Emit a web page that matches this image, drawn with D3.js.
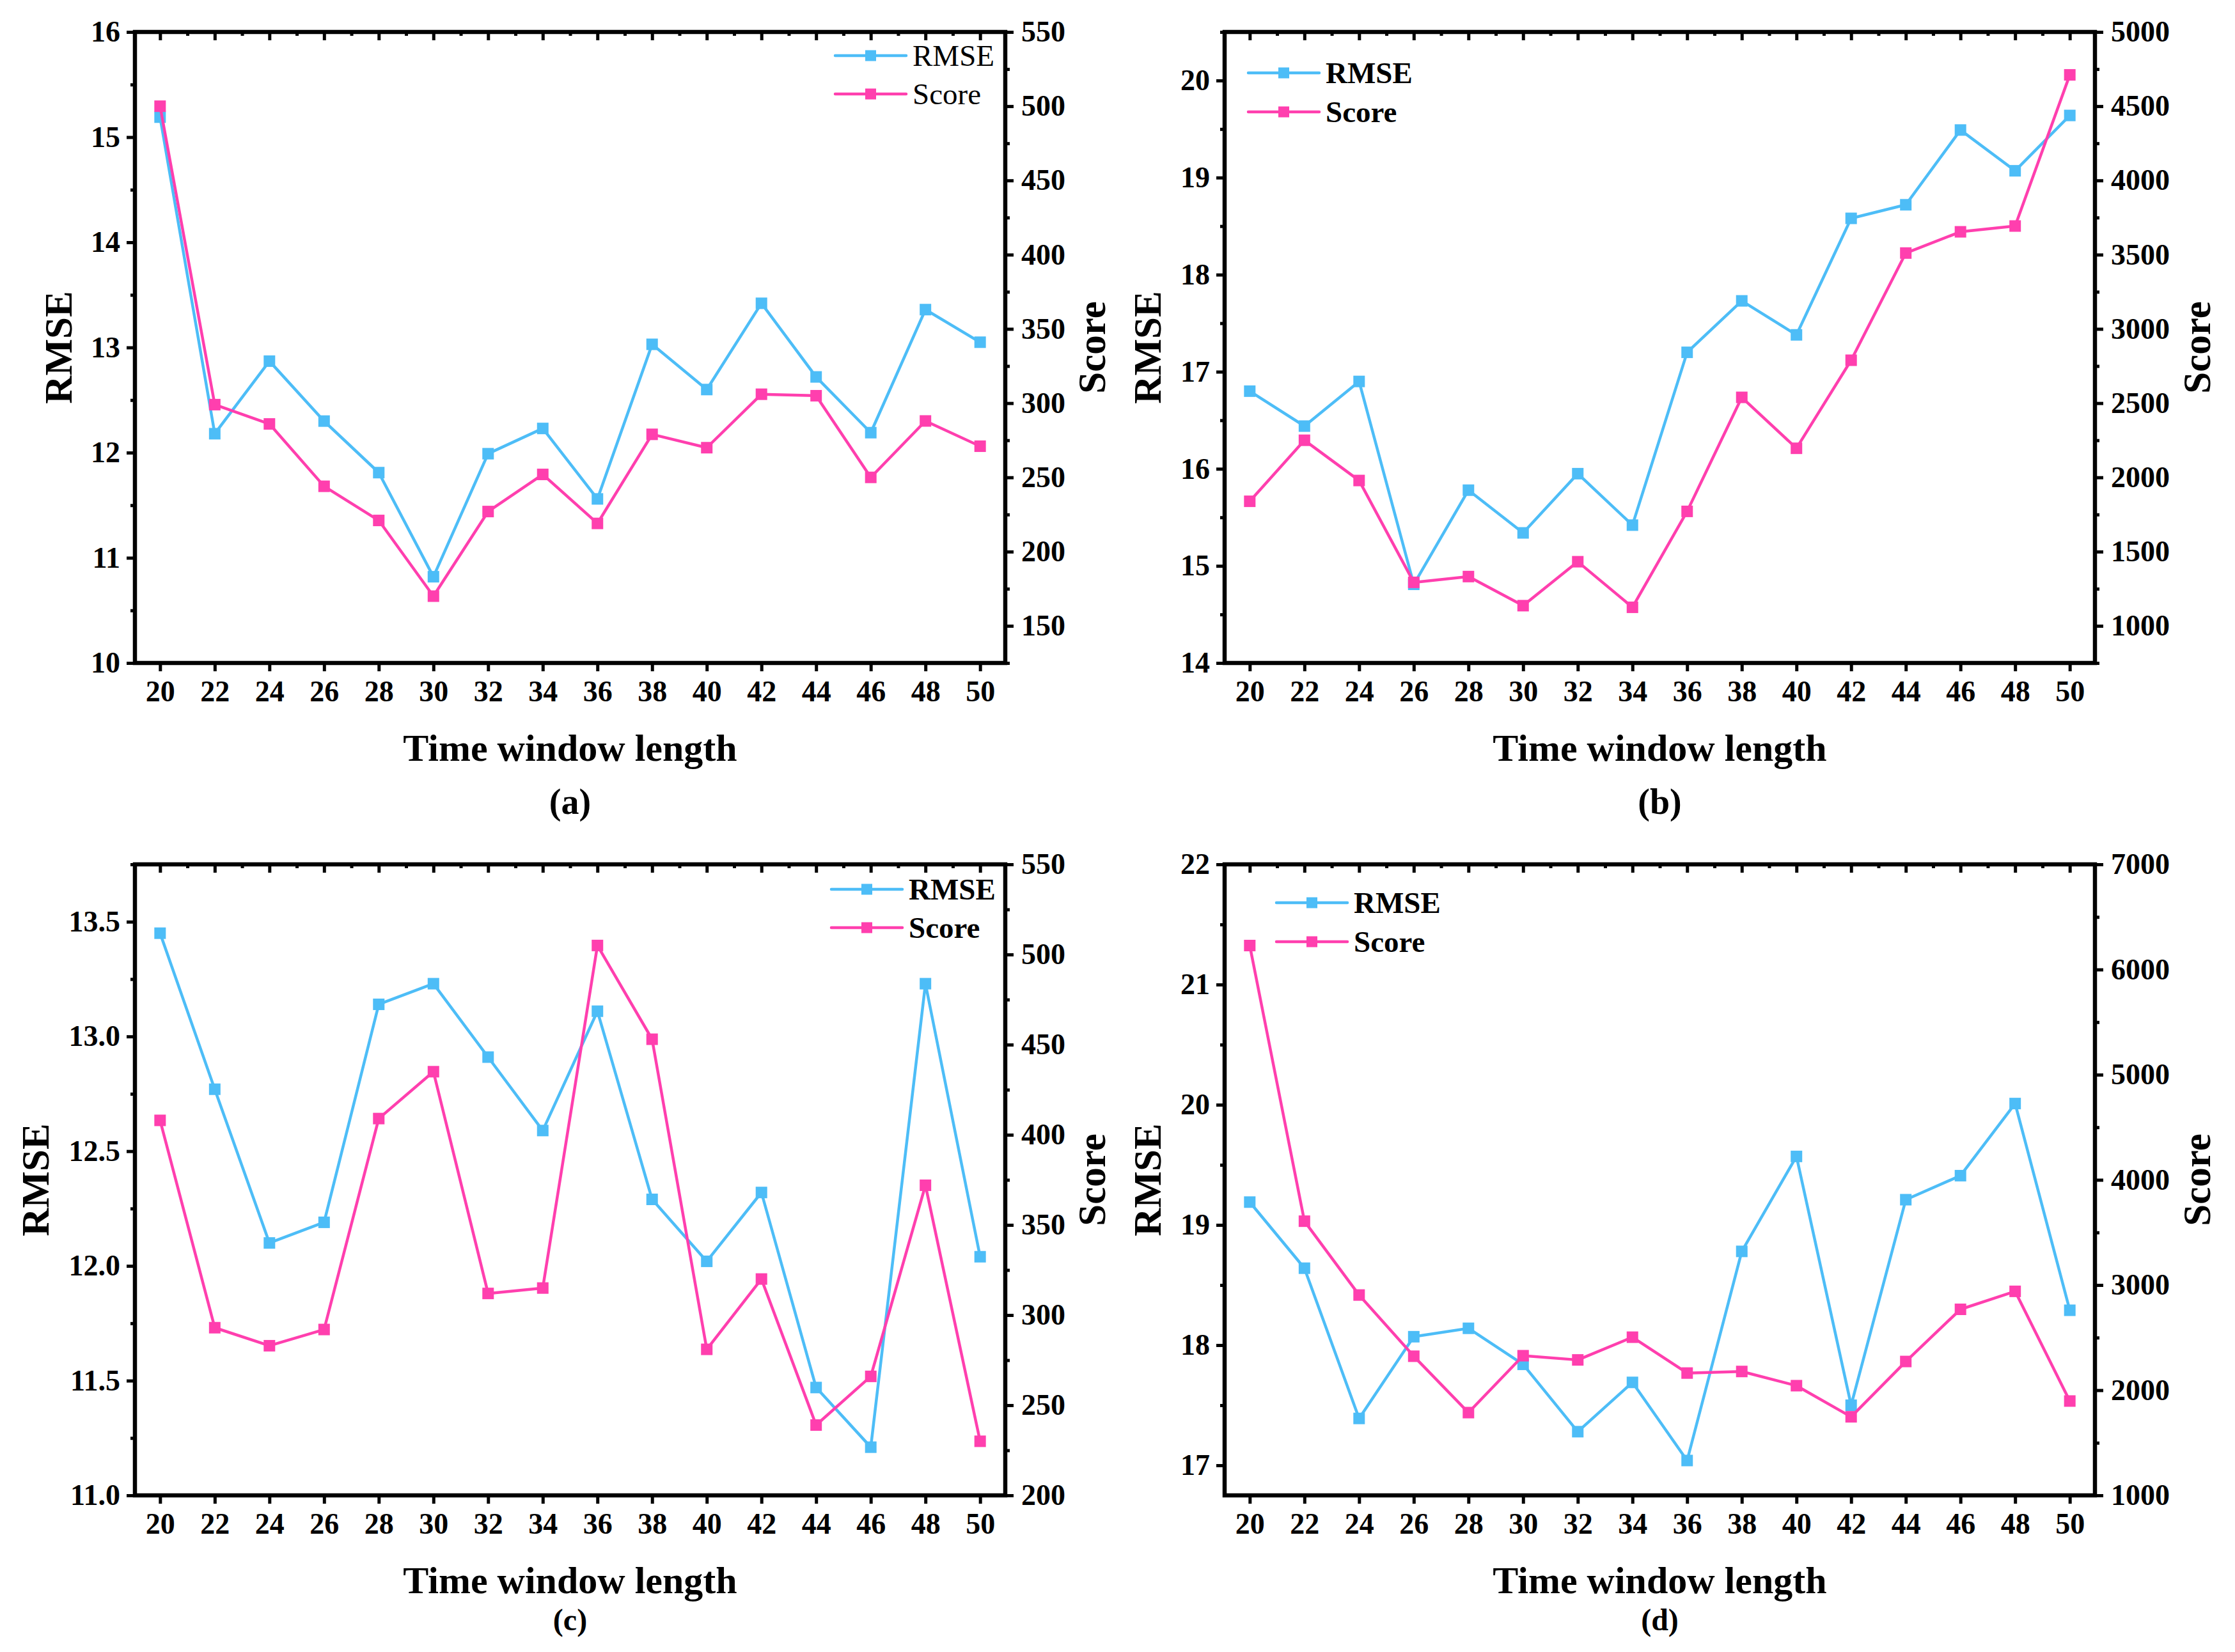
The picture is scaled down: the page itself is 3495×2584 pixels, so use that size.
<!DOCTYPE html>
<html>
<head>
<meta charset="utf-8">
<script src="https://cdn.jsdelivr.net/npm/d3@7"></script>
<style>
  body { margin: 0; background: #fff; }
  text { font-family: "Liberation Serif", "Times New Roman", serif; }
</style>
</head>
<body>
<div id="wrapper"></div>
<script>
// window lengths on the x axis
const windowLengths = [20, 22, 24, 26, 28, 30, 32, 34, 36, 38, 40, 42, 44, 46, 48, 50];

// panel (a)
const rmseA  = [15.19, 12.18, 12.87, 12.30, 11.81, 10.82, 11.99, 12.23, 11.56, 13.03, 12.60, 13.42, 12.72, 12.19, 13.36, 13.05];
const scoreA = [500, 299, 286, 244, 221, 170, 227, 252, 219, 279, 270, 306, 305, 250, 288, 271];
// panel (b)
const rmseB  = [16.80, 16.44, 16.90, 14.81, 15.78, 15.34, 15.95, 15.42, 17.20, 17.73, 17.38, 18.58, 18.72, 19.49, 19.07, 19.64];
const scoreB = [1839, 2250, 1979, 1293, 1332, 1136, 1432, 1125, 1771, 2539, 2196, 2789, 3511, 3654, 3693, 4711];
// panel (c)
const rmseC  = [13.45, 12.77, 12.10, 12.19, 13.14, 13.23, 12.91, 12.59, 13.11, 12.29, 12.02, 12.32, 11.47, 11.21, 13.23, 12.04];
const scoreC = [408, 293, 283, 292, 409, 435, 312, 315, 505, 453, 281, 320, 239, 266, 372, 230];
// panel (d)
const rmseD  = [19.19, 18.64, 17.39, 18.07, 18.14, 17.84, 17.28, 17.69, 17.04, 18.78, 19.57, 17.50, 19.21, 19.41, 20.01, 18.29];
const scoreD = [6228, 3607, 2905, 2323, 1787, 2328, 2288, 2504, 2163, 2178, 2043, 1747, 2273, 2769, 2940, 1897];

// tick values
const rmseTicksA = [10, 11, 12, 13, 14, 15, 16];
const scoreTicksA = [150, 200, 250, 300, 350, 400, 450, 500, 550];
const rmseTicksB = [14, 15, 16, 17, 18, 19, 20];
const scoreTicksB = [1000, 1500, 2000, 2500, 3000, 3500, 4000, 4500, 5000];
const rmseTicksC = [11.0, 11.5, 12.0, 12.5, 13.0, 13.5];
const scoreTicksC = [200, 250, 300, 350, 400, 450, 500, 550];
const rmseTicksD = [17, 18, 19, 20, 21, 22];
const scoreTicksD = [1000, 2000, 3000, 4000, 5000, 6000, 7000];

const seriesNames = ["RMSE", "Score"];
const panelLabels = ["(a)", "(b)", "(c)", "(d)"];

const colors = { RMSE: "#4dbdf7", Score: "#ff3fae" };

let dimensions = {
    width: 3495,
    height: 2584,
    plotWidth: 1361,
    plotHeight: 987,
}

const panels = [
    { label: panelLabels[0], left: 211, top: 50, rmse: rmseA, score: scoreA,
      yDomain: [10, 16], yTicks: rmseTicksA, yMinorStep: 0.5, yFormat: d3.format("d"),
      sDomain: [125, 550], sTicks: scoreTicksA, sMinorStep: 25,
      leftTitleOff: 99, rightTitleOff: 156, labelOff: 236, labelSize: 56,
      legend: { x: 1095, y: 37, gap: 60, weight: "normal" } },
    { label: panelLabels[1], left: 1915, top: 50, rmse: rmseB, score: scoreB,
      yDomain: [14, 20.5], yTicks: rmseTicksB, yMinorStep: 0.5, yFormat: d3.format("d"),
      sDomain: [750, 5000], sTicks: scoreTicksB, sMinorStep: 250,
      leftTitleOff: 100, rightTitleOff: 180, labelOff: 236, labelSize: 56,
      legend: { x: 37, y: 64, gap: 61, weight: "bold" } },
    { label: panelLabels[2], left: 211, top: 1352, rmse: rmseC, score: scoreC,
      yDomain: [11, 13.75], yTicks: rmseTicksC, yMinorStep: 0.25, yFormat: d3.format(".1f"),
      sDomain: [200, 550], sTicks: scoreTicksC, sMinorStep: 25,
      leftTitleOff: 135, rightTitleOff: 156, labelOff: 211, labelSize: 48,
      legend: { x: 1089, y: 39, gap: 60, weight: "bold" } },
    { label: panelLabels[3], left: 1915, top: 1352, rmse: rmseD, score: scoreD,
      yDomain: [16.75, 22], yTicks: rmseTicksD, yMinorStep: 0.5, yFormat: d3.format("d"),
      sDomain: [1000, 7000], sTicks: scoreTicksD, sMinorStep: 500,
      leftTitleOff: 100, rightTitleOff: 180, labelOff: 211, labelSize: 48,
      legend: { x: 81, y: 60, gap: 61, weight: "bold" } },
]

const svg = d3.select("#wrapper")
    .append("svg")
    .attr("width", dimensions.width)
    .attr("height", dimensions.height)

function minorValues(domain, step, majors) {
    let out = [];
    let start = Math.ceil(domain[0] / step - 1e-9) * step;
    for (let v = start; v <= domain[1] + 1e-9; v += step) {
        let isMajor = majors.some(m => Math.abs(m - v) < 1e-6);
        if (!isMajor) out.push(+v.toFixed(4));
    }
    return out;
}

function styleAxis(g, size) {
    g.select(".domain").remove();
    g.selectAll("line").attr("stroke", "#000").attr("stroke-width", 5);
    g.selectAll("text")
        .attr("fill", "#000")
        .style("font-size", size + "px")
        .style("font-weight", "bold");
}

function drawPanel(p) {
    const w = dimensions.plotWidth;
    const h = dimensions.plotHeight;

    const g = svg.append("g")
        .attr("transform", "translate(" + p.left + "," + p.top + ")");

    const xScale = d3.scaleLinear().domain([19.08, 50.92]).range([0, w]);
    const yScale = d3.scaleLinear().domain(p.yDomain).range([h, 0]);
    const sScale = d3.scaleLinear().domain(p.sDomain).range([h, 0]);

    const oddTicks = d3.range(21, 51, 2);

    // bottom axis
    g.append("g")
        .attr("transform", `translate(0,${h})`)
        .call(d3.axisBottom(xScale).tickValues(windowLengths).tickFormat(d3.format("d"))
            .tickSize(13).tickSizeOuter(0).tickPadding(14))
        .call(a => styleAxis(a, 46));

    // top axis, ticks pointing in
    g.append("g")
        .call(d3.axisTop(xScale).tickValues(windowLengths).tickFormat("")
            .tickSize(-13).tickSizeOuter(0))
        .call(a => styleAxis(a, 46));
    g.append("g")
        .call(d3.axisTop(xScale).tickValues(oddTicks).tickFormat("")
            .tickSize(-6).tickSizeOuter(0))
        .call(a => styleAxis(a, 46));

    // left axis
    g.append("g")
        .call(d3.axisLeft(yScale).tickValues(p.yTicks).tickFormat(p.yFormat)
            .tickSize(13).tickSizeOuter(0).tickPadding(10))
        .call(a => styleAxis(a, 46));
    g.append("g")
        .call(d3.axisLeft(yScale).tickValues(minorValues(p.yDomain, p.yMinorStep, p.yTicks))
            .tickFormat("").tickSize(7).tickSizeOuter(0))
        .call(a => styleAxis(a, 46));

    // right axis
    g.append("g")
        .attr("transform", `translate(${w},0)`)
        .call(d3.axisRight(sScale).tickValues(p.sTicks).tickFormat(d3.format("d"))
            .tickSize(13).tickSizeOuter(0).tickPadding(12))
        .call(a => styleAxis(a, 46));
    g.append("g")
        .attr("transform", `translate(${w},0)`)
        .call(d3.axisRight(sScale).tickValues(minorValues(p.sDomain, p.sMinorStep, p.sTicks))
            .tickFormat("").tickSize(7).tickSizeOuter(0))
        .call(a => styleAxis(a, 46));

    // frame
    g.append("rect")
        .attr("width", w)
        .attr("height", h)
        .attr("fill", "none")
        .attr("stroke", "#000")
        .attr("stroke-width", 6.5)

    // series
    const series = [
        { name: seriesNames[0], values: p.rmse, scale: yScale },
        { name: seriesNames[1], values: p.score, scale: sScale },
    ]

    series.forEach(s => {
        const pts = windowLengths.map((x, i) => [x, s.values[i]]);
        g.append("path")
            .datum(pts)
            .attr("d", d3.line()
                .x(d => xScale(d[0]))
                .y(d => s.scale(d[1])))
            .attr("fill", "none")
            .attr("stroke", colors[s.name])
            .attr("stroke-width", 4.5)
            .attr("stroke-linejoin", "round")

        g.append("g")
            .selectAll("rect")
            .data(pts)
            .enter()
            .append("rect")
            .attr("x", d => xScale(d[0]) - 9)
            .attr("y", d => s.scale(d[1]) - 9)
            .attr("width", 18)
            .attr("height", 18)
            .attr("fill", colors[s.name])
    })

    // legend
    const leg = g.append("g")
        .attr("transform", `translate(${p.legend.x},${p.legend.y})`);
    seriesNames.forEach((name, i) => {
        const row = leg.append("g").attr("transform", `translate(0,${i * p.legend.gap})`);
        row.append("line")
            .attr("x1", 0).attr("x2", 111)
            .attr("stroke", colors[name])
            .attr("stroke-width", 4.5)
            .attr("stroke-linecap", "round")
        row.append("rect")
            .attr("x", 47).attr("y", -8.5)
            .attr("width", 17).attr("height", 17)
            .attr("fill", colors[name])
        row.append("text")
            .attr("x", 121)
            .attr("dy", "0.35em")
            .style("font-size", "47px")
            .style("font-weight", p.legend.weight)
            .text(name)
    })

    // axis titles
    g.append("text")
        .attr("transform", `translate(${-p.leftTitleOff},${h / 2}) rotate(-90)`)
        .attr("text-anchor", "middle")
        .style("font-size", "61px")
        .style("font-weight", "bold")
        .text("RMSE")

    g.append("text")
        .attr("transform", `translate(${w + p.rightTitleOff},${h / 2}) rotate(-90)`)
        .attr("text-anchor", "middle")
        .style("font-size", "61px")
        .style("font-weight", "bold")
        .text("Score")

    g.append("text")
        .attr("x", w / 2)
        .attr("y", h + 153)
        .attr("text-anchor", "middle")
        .style("font-size", "60px")
        .style("font-weight", "bold")
        .text("Time window length")

    g.append("text")
        .attr("x", w / 2)
        .attr("y", h + p.labelOff)
        .attr("text-anchor", "middle")
        .style("font-size", p.labelSize + "px")
        .style("font-weight", "bold")
        .text(p.label)
}

panels.forEach(drawPanel);
</script>
</body>
</html>
